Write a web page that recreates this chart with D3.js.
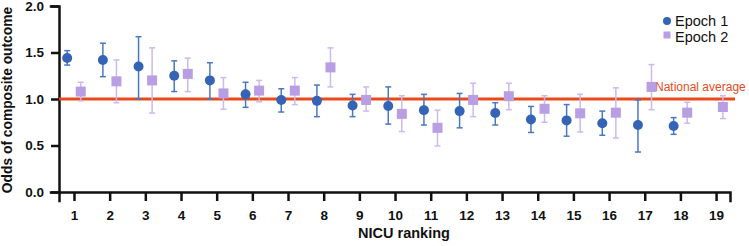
<!DOCTYPE html>
<html lang="en">
<head>
    <meta charset="UTF-8">
    <title>Odds of composite outcome by NICU ranking</title>
    <script src="https://d3js.org/d3.v7.min.js"></script>
    <style>
        body { margin: 0; background: #fff; font-family: "Liberation Sans", Arial, sans-serif; }
        .axis text { font-family: "Liberation Sans", Arial, sans-serif; font-weight: bold; font-size: 13.5px; fill: #111; }
        .axis path, .axis line { stroke: #111; stroke-width: 2.5px; }
    </style>
</head>
<body>
    <div class="chart"></div>
    <script>
        const rankings = d3.range(1, 20);

        // epoch 1 (no estimate for ranking 19)
        const epoch1Odds = [1.44, 1.42, 1.35, 1.25, 1.20, 1.05, 0.99, 0.98, 0.93, 0.925, 0.88, 0.87, 0.85, 0.78, 0.77, 0.74, 0.72, 0.71, null];
        const epoch1Low  = [1.365, 1.24, 1.00, 1.08, 1.00, 0.91, 0.86, 0.81, 0.81, 0.73, 0.72, 0.69, 0.72, 0.64, 0.60, 0.61, 0.43, 0.62, null];
        const epoch1High = [1.52, 1.60, 1.67, 1.41, 1.39, 1.18, 1.11, 1.15, 1.05, 1.13, 1.05, 1.06, 0.96, 0.92, 0.94, 0.87, 0.99, 0.80, null];

        const epoch2Odds = [1.08, 1.19, 1.20, 1.27, 1.06, 1.09, 1.09, 1.34, 0.99, 0.84, 0.69, 0.99, 1.03, 0.895, 0.846, 0.853, 1.13, 0.853, 0.914];
        const epoch2Low  = [0.98, 0.96, 0.85, 1.08, 0.89, 0.97, 0.94, 1.13, 0.87, 0.65, 0.495, 0.81, 0.885, 0.75, 0.645, 0.58, 0.885, 0.74, 0.79];
        const epoch2High = [1.18, 1.42, 1.55, 1.44, 1.23, 1.20, 1.23, 1.55, 1.13, 1.035, 0.88, 1.17, 1.17, 1.035, 1.05, 1.12, 1.37, 0.965, 1.035];

        const yTicks = [0, 0.5, 1.0, 1.5, 2.0];
        const nationalAverage = 1.0;

        const width = 749, height = 246;
        const blue = '#3563b5', blueBar = '#4a78c4';
        const lavender = '#b89ee3', lavenderBar = '#cdb9ee';
        const orange = '#e84a1c';

        const svg = d3.select('.chart').append('svg')
            .attr('width', width)
            .attr('height', height);

        const x = d3.scaleLinear().domain([0.58, 19.39]).range([59, 730]);
        const y = d3.scaleLinear().domain([0, 2]).range([192, 6]);
        const offset = 0.19;

        svg.append('g')
            .attr('class', 'axis')
            .attr('transform', 'translate(0,192)')
            .call(d3.axisBottom(x).tickValues(rankings).tickFormat(d3.format('d')).tickSizeOuter(0).tickSize(9).tickPadding(9));

        svg.append('g')
            .attr('class', 'axis')
            .attr('transform', 'translate(59,0)')
            .call(d3.axisLeft(y).tickValues(yTicks).tickFormat(d3.format('.1f')).tickSizeOuter(0).tickSize(8).tickPadding(7));

        svg.selectAll('.axis .domain').attr('stroke-linecap', 'square');

        // axis titles
        svg.append('text')
            .attr('x', 404).attr('y', 238)
            .attr('text-anchor', 'middle')
            .style('font-weight', 'bold').style('font-size', '14.5px').attr('fill', '#111')
            .text('NICU ranking');

        svg.append('text')
            .attr('transform', 'translate(12,100) rotate(-90)')
            .attr('text-anchor', 'middle')
            .style('font-weight', 'bold').style('font-size', '13.8px').attr('fill', '#111')
            .text('Odds of composite outcome');

        // national average line
        svg.append('line')
            .attr('x1', 59).attr('x2', 735)
            .attr('y1', y(nationalAverage)).attr('y2', y(nationalAverage))
            .attr('stroke', orange).attr('stroke-width', 3);

        svg.append('text')
            .attr('x', 655).attr('y', 91)
            .style('font-size', '12px').attr('fill', orange)
            .text('National average');

        function drawErrorBars(odds, low, high, dx, color) {
            const rows = rankings.map((r, i) => ({ r, v: odds[i], lo: low[i], hi: high[i] }))
                .filter(d => d.v != null);
            const g = svg.append('g').attr('stroke', color).attr('stroke-width', 1.5);
            g.selectAll('.stem').data(rows).enter().append('line')
                .attr('x1', d => x(d.r + dx)).attr('x2', d => x(d.r + dx))
                .attr('y1', d => y(d.lo)).attr('y2', d => y(d.hi));
            g.selectAll('.capHi').data(rows).enter().append('line')
                .attr('x1', d => x(d.r + dx) - 3).attr('x2', d => x(d.r + dx) + 3)
                .attr('y1', d => y(d.hi)).attr('y2', d => y(d.hi));
            g.selectAll('.capLo').data(rows).enter().append('line')
                .attr('x1', d => x(d.r + dx) - 3).attr('x2', d => x(d.r + dx) + 3)
                .attr('y1', d => y(d.lo)).attr('y2', d => y(d.lo));
            return rows;
        }

        const rows1 = drawErrorBars(epoch1Odds, epoch1Low, epoch1High, -offset, blueBar);
        const rows2 = drawErrorBars(epoch2Odds, epoch2Low, epoch2High, offset, lavenderBar);

        svg.selectAll('.epoch1').data(rows1).enter().append('circle')
            .attr('cx', d => x(d.r - offset)).attr('cy', d => y(d.v))
            .attr('r', 5).attr('fill', blue);

        svg.selectAll('.epoch2').data(rows2).enter().append('rect')
            .attr('x', d => x(d.r + offset) - 5).attr('y', d => y(d.v) - 5)
            .attr('width', 10).attr('height', 10).attr('fill', lavender);

        // legend
        const legend = svg.append('g').style('font-size', '14.5px');
        legend.append('circle').attr('cx', 667).attr('cy', 21).attr('r', 4).attr('fill', blue);
        legend.append('text').attr('x', 675).attr('y', 26).attr('fill', '#111').text('Epoch 1');
        legend.append('rect').attr('x', 663.5).attr('y', 31.5).attr('width', 7).attr('height', 7).attr('fill', lavender);
        legend.append('text').attr('x', 675).attr('y', 42).attr('fill', '#111').text('Epoch 2');
    </script>
</body>
</html>
